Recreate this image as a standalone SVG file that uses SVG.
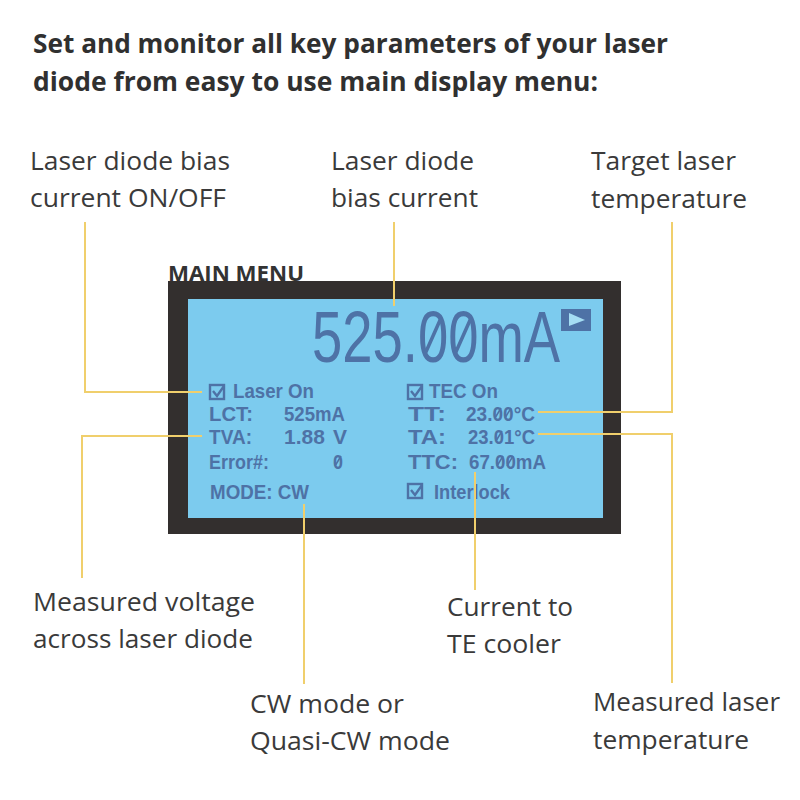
<svg xmlns="http://www.w3.org/2000/svg" width="800" height="800" viewBox="0 0 800 800">
<style>
.h{font:bold 27px "Open Sans",sans-serif;fill:#303030}
.l{font:26px "Open Sans",sans-serif;fill:#3a3a3a}
.d{font:bold 21px "Liberation Sans",sans-serif;fill:#4e72a6}
.c{fill:none;stroke:#f0cf6c;stroke-width:2}
.b{fill:none;stroke:#4e72a6;stroke-width:2.4}
.s{fill:none;stroke:#4e72a6;stroke-width:1.5}
</style>
<rect width="800" height="800" fill="#fff"/>
<g id="heading">
<text class="h" x="33" y="53" textLength="635" lengthAdjust="spacingAndGlyphs">Set and monitor all key parameters of your laser</text>
<text class="h" x="33" y="91" textLength="565" lengthAdjust="spacingAndGlyphs">diode from easy to use main display menu:</text>
</g>
<g id="display">
<text x="168" y="281" font-family="'Open Sans',sans-serif" font-weight="bold" font-size="21" fill="#333" textLength="136" lengthAdjust="spacingAndGlyphs">MAIN MENU</text>
<rect x="168" y="281" width="453" height="253" fill="#332f2e"/>
<rect x="188" y="299" width="415" height="219" fill="#7ccbee"/>
<text x="312" y="362" font-family="'Liberation Sans',sans-serif" font-size="72" fill="#4e72a6" textLength="248" lengthAdjust="spacingAndGlyphs">525.00mA</text>
<path class="s" style="stroke-width:3.5" d="M425 354L441 318M455 354L471 318"/>
<rect x="561" y="309" width="30" height="22" fill="#4e72a6"/>
<path d="M569 313L585 320L569 326Z" fill="#a5ddf3"/>
<text class="d" x="233" y="398" textLength="81" lengthAdjust="spacingAndGlyphs">Laser On</text>
<text class="d" x="209" y="421" textLength="44" lengthAdjust="spacingAndGlyphs">LCT:</text>
<text class="d" x="284" y="421" textLength="61" lengthAdjust="spacingAndGlyphs">525mA</text>
<text class="d" x="209" y="444" textLength="43" lengthAdjust="spacingAndGlyphs">TVA:</text>
<text class="d" x="284" y="444">1.88<tspan x="333">V</tspan></text>
<text class="d" x="209" y="469" textLength="60" lengthAdjust="spacingAndGlyphs">Error#:</text>
<text class="d" x="333" y="469" textLength="10" lengthAdjust="spacingAndGlyphs">0</text>
<text class="d" x="210" y="499" textLength="99" lengthAdjust="spacingAndGlyphs">MODE: CW</text>
<text class="d" x="429" y="398" textLength="69" lengthAdjust="spacingAndGlyphs">TEC On</text>
<text class="d" x="408" y="421" textLength="38" lengthAdjust="spacingAndGlyphs">TT:</text>
<text class="d" x="466" y="421" textLength="69" lengthAdjust="spacingAndGlyphs">23.00°C</text>
<text class="d" x="408" y="444" textLength="38" lengthAdjust="spacingAndGlyphs">TA:</text>
<text class="d" x="468" y="444" textLength="67" lengthAdjust="spacingAndGlyphs">23.01°C</text>
<text class="d" x="408" y="469" textLength="50" lengthAdjust="spacingAndGlyphs">TTC:</text>
<text class="d" x="469" y="469" textLength="77" lengthAdjust="spacingAndGlyphs">67.00mA</text>
<text class="d" x="434" y="499" textLength="76" lengthAdjust="spacingAndGlyphs">Interlock</text>
<path class="s" d="M335 466L341 456M495 418L501 408M505 418L511 408M496 441L502 431M497 466L503 456M507 466L513 456"/>
<rect class="b" x="210" y="385" width="14" height="14"/><path class="b" d="M213 391l4 5l7-10"/>
<rect class="b" x="408" y="385" width="14" height="14"/><path class="b" d="M411 391l4 5l7-10"/>
<rect class="b" x="408" y="484" width="14" height="14"/><path class="b" d="M411 490l4 5l7-10"/>
</g>
<g id="connectors">
<path class="c" d="M85 222V392H202"/>
<path class="c" d="M394 222V306"/>
<path class="c" d="M672 222V412H538"/>
<path class="c" d="M202 436H82V578"/>
<path class="c" d="M538 434H672V683"/>
<path class="c" d="M304 504V684"/>
<path class="c" d="M475 472V590"/>
</g>
<g id="label-bias-onoff"><text class="l" x="30" y="170" textLength="200" lengthAdjust="spacingAndGlyphs">Laser diode bias</text><text class="l" x="30" y="207" textLength="196" lengthAdjust="spacingAndGlyphs">current ON/OFF</text></g>
<g id="label-bias-current"><text class="l" x="331" y="170" textLength="143" lengthAdjust="spacingAndGlyphs">Laser diode</text><text class="l" x="331" y="207" textLength="147" lengthAdjust="spacingAndGlyphs">bias current</text></g>
<g id="label-target-temp"><text class="l" x="591" y="170" textLength="145" lengthAdjust="spacingAndGlyphs">Target laser</text><text class="l" x="591" y="208" textLength="156" lengthAdjust="spacingAndGlyphs">temperature</text></g>
<g id="label-voltage"><text class="l" x="33" y="611" textLength="222" lengthAdjust="spacingAndGlyphs">Measured voltage</text><text class="l" x="33" y="648" textLength="220" lengthAdjust="spacingAndGlyphs">across laser diode</text></g>
<g id="label-te-current"><text class="l" x="447" y="616" textLength="126" lengthAdjust="spacingAndGlyphs">Current to</text><text class="l" x="447" y="653" textLength="114" lengthAdjust="spacingAndGlyphs">TE cooler</text></g>
<g id="label-mode"><text class="l" x="250" y="713" textLength="154" lengthAdjust="spacingAndGlyphs">CW mode or</text><text class="l" x="250" y="750" textLength="200" lengthAdjust="spacingAndGlyphs">Quasi-CW mode</text></g>
<g id="label-measured-temp"><text class="l" x="593" y="711" textLength="187" lengthAdjust="spacingAndGlyphs">Measured laser</text><text class="l" x="593" y="749" textLength="156" lengthAdjust="spacingAndGlyphs">temperature</text></g>
</svg>
